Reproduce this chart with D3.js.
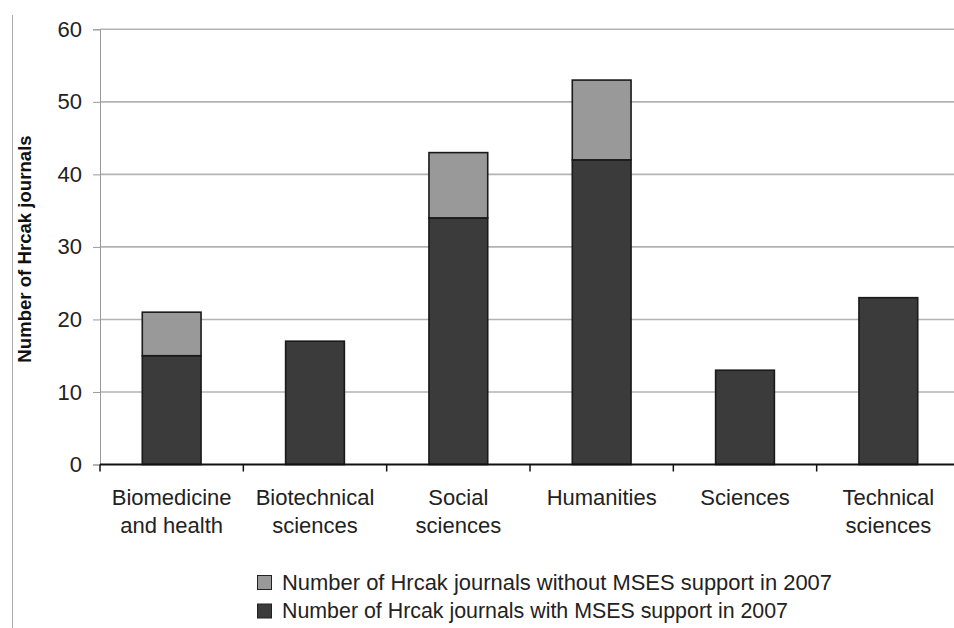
<!DOCTYPE html>
<html>
<head>
<meta charset="utf-8">
<script src="https://cdn.jsdelivr.net/npm/d3@7"></script>
<style>
  body { margin: 0; background: #fff; }
  svg { display: block; font-family: "Liberation Sans", Arial, sans-serif; }
</style>
</head>
<body>
<div class="chart"></div>
<script>
const categories = [
  ["Biomedicine", "and health"],
  ["Biotechnical", "sciences"],
  ["Social", "sciences"],
  ["Humanities"],
  ["Sciences"],
  ["Technical", "sciences"]
]
const withSupport = [15, 17, 34, 42, 13, 23]
const withoutSupport = [6, 0, 9, 11, 0, 0]
const yTicks = [0, 10, 20, 30, 40, 50, 60]
const seriesNames = [
  "Number of Hrcak journals without MSES support in 2007",
  "Number of Hrcak journals with MSES support in 2007"
]

const width = 954
const height = 628
const margin = { top: 29, right: 0, bottom: 163, left: 100 }
const darkFill = "#3b3b3b"
const lightFill = "#999999"

const data = categories.map((c, i) => ({ key: i, with: withSupport[i], without: withoutSupport[i] }))

const svg = d3.select(".chart").append("svg").attr("width", width).attr("height", height)

// page border line on the left
svg.append("line")
  .attr("x1", 12.5).attr("x2", 12.5).attr("y1", 15).attr("y2", height)
  .attr("stroke", "#aaa").attr("stroke-width", 1)

const xScale = d3.scaleBand()
  .domain(data.map(d => d.key))
  .range([margin.left, 960])
  .paddingInner(0)
  .paddingOuter(0)

const yScale = d3.scaleLinear().domain([0, 60]).range([height - margin.bottom - 0.5, margin.top + 0.3])

// gridlines
svg.append("g")
  .selectAll("line")
  .data(yTicks.filter(t => t > 0))
  .enter()
  .append("line")
  .attr("x1", margin.left)
  .attr("x2", width)
  .attr("y1", d => yScale(d))
  .attr("y2", d => yScale(d))
  .attr("stroke", "#b3b3b3")
  .attr("stroke-width", 1.6)

// y axis
const yAxisGroup = svg.append("g").attr("transform", `translate(${margin.left}, 0)`)
yAxisGroup.call(d3.axisLeft(yScale).tickValues(yTicks).tickSize(7).tickPadding(11))
yAxisGroup.select(".domain").attr("stroke", "#999").attr("stroke-width", 1)
yAxisGroup.selectAll(".tick line").attr("stroke", "#999").attr("stroke-width", 1)
yAxisGroup.selectAll(".tick text")
  .attr("font-size", 22)
  .attr("fill", "#222")
  .attr("font-family", "Liberation Sans, Arial, sans-serif")

svg.append("text")
  .attr("transform", `translate(24, 249) rotate(-90)`)
  .attr("text-anchor", "middle")
  .attr("dominant-baseline", "central")
  .attr("font-size", 18.6)
  .attr("font-weight", "bold")
  .attr("fill", "#111")
  .text("Number of Hrcak journals")

// stacked bars
const stack = d3.stack().keys(["with", "without"])
const layers = stack(data)
const fills = { with: darkFill, without: lightFill }
const barW = xScale.bandwidth() * 0.41

svg.append("g")
  .selectAll("g")
  .data(layers)
  .enter()
  .append("g")
  .attr("fill", d => fills[d.key])
  .selectAll("rect")
  .data(d => d.filter(p => p[1] - p[0] > 0))
  .enter()
  .append("rect")
  .attr("x", d => xScale(d.data.key) + (xScale.bandwidth() - barW) / 2)
  .attr("width", barW)
  .attr("y", d => yScale(d[1]))
  .attr("height", d => yScale(d[0]) - yScale(d[1]))
  .attr("stroke", "#1a1a1a")
  .attr("stroke-width", 1.6)

// x axis
const y0 = yScale(0)
const xAxisGroup = svg.append("g")
xAxisGroup.append("line")
  .attr("x1", margin.left).attr("x2", width)
  .attr("y1", y0).attr("y2", y0)
  .attr("stroke", "#111").attr("stroke-width", 2)
xAxisGroup.selectAll("line.tick")
  .data(data)
  .enter()
  .append("line")
  .attr("class", "tick")
  .attr("x1", d => xScale(d.key)).attr("x2", d => xScale(d.key))
  .attr("y1", y0).attr("y2", y0 + 7)
  .attr("stroke", "#111").attr("stroke-width", 1.5)

xAxisGroup.selectAll("text.cat")
  .data(data)
  .enter()
  .append("text")
  .attr("class", "cat")
  .attr("text-anchor", "middle")
  .attr("font-size", 22)
  .attr("fill", "#222")
  .attr("x", d => xScale(d.key) + xScale.bandwidth() / 2)
  .attr("y", 505)
  .selectAll("tspan")
  .data(d => categories[d.key])
  .enter()
  .append("tspan")
  .attr("x", function () { return d3.select(this.parentNode).attr("x") })
  .attr("dy", (d, i) => i === 0 ? 0 : 28)
  .text(d => d)

// legend
const legend = svg.append("g").attr("transform", "translate(257, 575)")
const legendFills = [lightFill, darkFill]
seriesNames.forEach((name, i) => {
  const row = legend.append("g").attr("transform", `translate(0, ${i * 28.5})`)
  row.append("rect")
    .attr("x", 0.5).attr("y", 0.5).attr("width", 14).attr("height", 14)
    .attr("fill", legendFills[i]).attr("stroke", "#222").attr("stroke-width", 1)
  row.append("text")
    .attr("x", 25).attr("y", 14.5)
    .attr("font-size", 22)
    .attr("fill", "#222")
    .attr("textLength", i === 0 ? 550 : 506)
    .attr("lengthAdjust", "spacingAndGlyphs")
    .text(name)
})
</script>
</body>
</html>
